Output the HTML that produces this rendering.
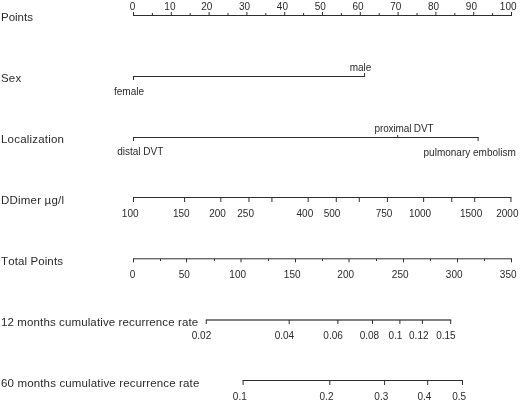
<!DOCTYPE html>
<html><head><meta charset="utf-8"><style>
html,body{margin:0;padding:0;background:#fff;width:520px;height:402px;overflow:hidden}
svg{display:block;will-change:transform}
.t{font-family:"Liberation Sans",sans-serif;font-kerning:none;font-size:10px;fill:#2a2a2a}
.r{font-family:"Liberation Sans",sans-serif;font-kerning:none;font-size:11.5px;fill:#2a2a2a}
</style></head><body>
<svg width="520" height="402" viewBox="0 0 520 402">
<rect width="520" height="402" fill="#fff"/>
<text x="1.00" y="20.90" class="r" text-anchor="start" style="letter-spacing:0.0px">Points</text>
<text x="1.00" y="81.80" class="r" text-anchor="start" style="letter-spacing:0.2px">Sex</text>
<text x="1.00" y="142.90" class="r" text-anchor="start" style="letter-spacing:0.2px">Localization</text>
<text x="1.00" y="203.80" class="r" text-anchor="start" style="letter-spacing:0.2px">DDimer µg/l</text>
<text x="1.00" y="264.80" class="r" text-anchor="start" style="letter-spacing:0.11px">Total Points</text>
<text x="1.00" y="326.20" class="r" text-anchor="start" style="letter-spacing:0.12px">12 months cumulative recurrence rate</text>
<text x="1.00" y="386.60" class="r" text-anchor="start" style="letter-spacing:0.15px">60 months cumulative recurrence rate</text>
<line x1="133.00" y1="15.50" x2="512.00" y2="15.50" stroke="#2e2e2e" stroke-width="1"/>
<line x1="133.50" y1="12.00" x2="133.50" y2="15.50" stroke="#2e2e2e" stroke-width="1"/>
<text x="132.50" y="9.80" class="t" text-anchor="middle">0</text>
<line x1="152.40" y1="13.00" x2="152.40" y2="15.50" stroke="#2e2e2e" stroke-width="1"/>
<line x1="171.30" y1="12.00" x2="171.30" y2="15.50" stroke="#2e2e2e" stroke-width="1"/>
<text x="169.90" y="9.80" class="t" text-anchor="middle">10</text>
<line x1="190.20" y1="13.00" x2="190.20" y2="15.50" stroke="#2e2e2e" stroke-width="1"/>
<line x1="209.10" y1="12.00" x2="209.10" y2="15.50" stroke="#2e2e2e" stroke-width="1"/>
<text x="206.80" y="9.80" class="t" text-anchor="middle">20</text>
<line x1="228.00" y1="13.00" x2="228.00" y2="15.50" stroke="#2e2e2e" stroke-width="1"/>
<line x1="246.90" y1="12.00" x2="246.90" y2="15.50" stroke="#2e2e2e" stroke-width="1"/>
<text x="244.60" y="9.80" class="t" text-anchor="middle">30</text>
<line x1="265.80" y1="13.00" x2="265.80" y2="15.50" stroke="#2e2e2e" stroke-width="1"/>
<line x1="284.70" y1="12.00" x2="284.70" y2="15.50" stroke="#2e2e2e" stroke-width="1"/>
<text x="282.40" y="9.80" class="t" text-anchor="middle">40</text>
<line x1="303.60" y1="13.00" x2="303.60" y2="15.50" stroke="#2e2e2e" stroke-width="1"/>
<line x1="322.50" y1="12.00" x2="322.50" y2="15.50" stroke="#2e2e2e" stroke-width="1"/>
<text x="320.20" y="9.80" class="t" text-anchor="middle">50</text>
<line x1="341.40" y1="13.00" x2="341.40" y2="15.50" stroke="#2e2e2e" stroke-width="1"/>
<line x1="360.30" y1="12.00" x2="360.30" y2="15.50" stroke="#2e2e2e" stroke-width="1"/>
<text x="358.00" y="9.80" class="t" text-anchor="middle">60</text>
<line x1="379.20" y1="13.00" x2="379.20" y2="15.50" stroke="#2e2e2e" stroke-width="1"/>
<line x1="398.10" y1="12.00" x2="398.10" y2="15.50" stroke="#2e2e2e" stroke-width="1"/>
<text x="395.80" y="9.80" class="t" text-anchor="middle">70</text>
<line x1="417.00" y1="13.00" x2="417.00" y2="15.50" stroke="#2e2e2e" stroke-width="1"/>
<line x1="435.90" y1="12.00" x2="435.90" y2="15.50" stroke="#2e2e2e" stroke-width="1"/>
<text x="433.60" y="9.80" class="t" text-anchor="middle">80</text>
<line x1="454.80" y1="13.00" x2="454.80" y2="15.50" stroke="#2e2e2e" stroke-width="1"/>
<line x1="473.70" y1="12.00" x2="473.70" y2="15.50" stroke="#2e2e2e" stroke-width="1"/>
<text x="471.40" y="9.80" class="t" text-anchor="middle">90</text>
<line x1="492.60" y1="13.00" x2="492.60" y2="15.50" stroke="#2e2e2e" stroke-width="1"/>
<line x1="511.50" y1="12.00" x2="511.50" y2="15.50" stroke="#2e2e2e" stroke-width="1"/>
<text x="508.20" y="9.80" class="t" text-anchor="middle">100</text>
<line x1="133.00" y1="76.50" x2="365.10" y2="76.50" stroke="#2e2e2e" stroke-width="1"/>
<line x1="133.50" y1="76.50" x2="133.50" y2="80.00" stroke="#2e2e2e" stroke-width="1"/>
<line x1="364.60" y1="76.50" x2="364.60" y2="73.00" stroke="#2e2e2e" stroke-width="1"/>
<text x="129.00" y="94.70" class="t" text-anchor="middle">female</text>
<text x="360.50" y="70.60" class="t" text-anchor="middle">male</text>
<line x1="133.00" y1="137.50" x2="478.60" y2="137.50" stroke="#2e2e2e" stroke-width="1"/>
<line x1="133.50" y1="137.50" x2="133.50" y2="141.00" stroke="#2e2e2e" stroke-width="1"/>
<line x1="397.70" y1="137.50" x2="397.70" y2="135.00" stroke="#2e2e2e" stroke-width="1"/>
<line x1="478.10" y1="137.50" x2="478.10" y2="141.00" stroke="#2e2e2e" stroke-width="1"/>
<text x="140.30" y="155.40" class="t" text-anchor="middle">distal DVT</text>
<text x="404.00" y="132.30" class="t" text-anchor="middle" style="letter-spacing:-0.15px">proximal DVT</text>
<text x="469.70" y="155.90" class="t" text-anchor="middle">pulmonary embolism</text>
<line x1="133.00" y1="197.50" x2="511.46" y2="197.50" stroke="#2e2e2e" stroke-width="1"/>
<line x1="133.50" y1="197.50" x2="133.50" y2="202.00" stroke="#2e2e2e" stroke-width="1"/>
<text x="130.20" y="216.60" class="t" text-anchor="middle">100</text>
<line x1="184.59" y1="197.50" x2="184.59" y2="202.00" stroke="#2e2e2e" stroke-width="1"/>
<text x="181.29" y="216.60" class="t" text-anchor="middle">150</text>
<line x1="220.84" y1="197.50" x2="220.84" y2="202.00" stroke="#2e2e2e" stroke-width="1"/>
<text x="217.54" y="216.60" class="t" text-anchor="middle">200</text>
<line x1="248.95" y1="197.50" x2="248.95" y2="202.00" stroke="#2e2e2e" stroke-width="1"/>
<text x="245.65" y="216.60" class="t" text-anchor="middle">250</text>
<line x1="271.93" y1="197.50" x2="271.93" y2="202.00" stroke="#2e2e2e" stroke-width="1"/>
<line x1="308.17" y1="197.50" x2="308.17" y2="202.00" stroke="#2e2e2e" stroke-width="1"/>
<text x="304.87" y="216.60" class="t" text-anchor="middle">400</text>
<line x1="336.29" y1="197.50" x2="336.29" y2="202.00" stroke="#2e2e2e" stroke-width="1"/>
<text x="331.99" y="216.60" class="t" text-anchor="middle">500</text>
<line x1="359.26" y1="197.50" x2="359.26" y2="202.00" stroke="#2e2e2e" stroke-width="1"/>
<line x1="387.38" y1="197.50" x2="387.38" y2="202.00" stroke="#2e2e2e" stroke-width="1"/>
<text x="384.08" y="216.60" class="t" text-anchor="middle">750</text>
<line x1="423.63" y1="197.50" x2="423.63" y2="202.00" stroke="#2e2e2e" stroke-width="1"/>
<text x="420.03" y="216.60" class="t" text-anchor="middle">1000</text>
<line x1="451.74" y1="197.50" x2="451.74" y2="202.00" stroke="#2e2e2e" stroke-width="1"/>
<line x1="474.71" y1="197.50" x2="474.71" y2="202.00" stroke="#2e2e2e" stroke-width="1"/>
<text x="471.11" y="216.60" class="t" text-anchor="middle">1500</text>
<line x1="510.96" y1="197.50" x2="510.96" y2="202.00" stroke="#2e2e2e" stroke-width="1"/>
<text x="507.36" y="216.60" class="t" text-anchor="middle">2000</text>
<line x1="133.00" y1="258.80" x2="512.00" y2="258.80" stroke="#2e2e2e" stroke-width="1"/>
<line x1="133.50" y1="258.80" x2="133.50" y2="262.30" stroke="#2e2e2e" stroke-width="1"/>
<text x="132.50" y="278.00" class="t" text-anchor="middle">0</text>
<line x1="160.50" y1="258.80" x2="160.50" y2="261.00" stroke="#2e2e2e" stroke-width="1"/>
<line x1="186.50" y1="258.80" x2="186.50" y2="262.30" stroke="#2e2e2e" stroke-width="1"/>
<text x="184.20" y="278.00" class="t" text-anchor="middle">50</text>
<line x1="214.50" y1="258.80" x2="214.50" y2="261.00" stroke="#2e2e2e" stroke-width="1"/>
<line x1="241.00" y1="258.80" x2="241.00" y2="262.30" stroke="#2e2e2e" stroke-width="1"/>
<text x="237.70" y="278.00" class="t" text-anchor="middle">100</text>
<line x1="268.50" y1="258.80" x2="268.50" y2="261.00" stroke="#2e2e2e" stroke-width="1"/>
<line x1="295.50" y1="258.80" x2="295.50" y2="262.30" stroke="#2e2e2e" stroke-width="1"/>
<text x="292.20" y="278.00" class="t" text-anchor="middle">150</text>
<line x1="322.50" y1="258.80" x2="322.50" y2="261.00" stroke="#2e2e2e" stroke-width="1"/>
<line x1="349.00" y1="258.80" x2="349.00" y2="262.30" stroke="#2e2e2e" stroke-width="1"/>
<text x="345.70" y="278.00" class="t" text-anchor="middle">200</text>
<line x1="376.50" y1="258.80" x2="376.50" y2="261.00" stroke="#2e2e2e" stroke-width="1"/>
<line x1="403.50" y1="258.80" x2="403.50" y2="262.30" stroke="#2e2e2e" stroke-width="1"/>
<text x="400.20" y="278.00" class="t" text-anchor="middle">250</text>
<line x1="430.50" y1="258.80" x2="430.50" y2="261.00" stroke="#2e2e2e" stroke-width="1"/>
<line x1="457.50" y1="258.80" x2="457.50" y2="262.30" stroke="#2e2e2e" stroke-width="1"/>
<text x="454.20" y="278.00" class="t" text-anchor="middle">300</text>
<line x1="484.50" y1="258.80" x2="484.50" y2="261.00" stroke="#2e2e2e" stroke-width="1"/>
<line x1="511.50" y1="258.80" x2="511.50" y2="262.30" stroke="#2e2e2e" stroke-width="1"/>
<text x="508.20" y="278.00" class="t" text-anchor="middle">350</text>
<line x1="205.80" y1="320.00" x2="451.20" y2="320.00" stroke="#000" stroke-width="1"/>
<line x1="206.30" y1="320.00" x2="206.30" y2="324.00" stroke="#2e2e2e" stroke-width="1"/>
<text x="201.50" y="338.50" class="t" text-anchor="middle">0.02</text>
<line x1="289.20" y1="320.00" x2="289.20" y2="324.00" stroke="#2e2e2e" stroke-width="1"/>
<text x="284.40" y="338.50" class="t" text-anchor="middle">0.04</text>
<line x1="337.90" y1="320.00" x2="337.90" y2="324.00" stroke="#2e2e2e" stroke-width="1"/>
<text x="333.10" y="338.50" class="t" text-anchor="middle">0.06</text>
<line x1="372.50" y1="320.00" x2="372.50" y2="324.00" stroke="#2e2e2e" stroke-width="1"/>
<text x="369.40" y="338.50" class="t" text-anchor="middle">0.08</text>
<line x1="399.90" y1="320.00" x2="399.90" y2="324.00" stroke="#2e2e2e" stroke-width="1"/>
<text x="395.40" y="338.50" class="t" text-anchor="middle">0.1</text>
<line x1="422.40" y1="320.00" x2="422.40" y2="324.00" stroke="#2e2e2e" stroke-width="1"/>
<text x="418.80" y="338.50" class="t" text-anchor="middle">0.12</text>
<line x1="450.70" y1="320.00" x2="450.70" y2="324.00" stroke="#2e2e2e" stroke-width="1"/>
<text x="445.90" y="338.50" class="t" text-anchor="middle">0.15</text>
<line x1="242.60" y1="380.50" x2="463.00" y2="380.50" stroke="#2e2e2e" stroke-width="1"/>
<line x1="243.10" y1="380.50" x2="243.10" y2="385.00" stroke="#2e2e2e" stroke-width="1"/>
<text x="239.80" y="399.80" class="t" text-anchor="middle">0.1</text>
<line x1="329.80" y1="380.50" x2="329.80" y2="385.00" stroke="#2e2e2e" stroke-width="1"/>
<text x="326.50" y="399.80" class="t" text-anchor="middle">0.2</text>
<line x1="384.60" y1="380.50" x2="384.60" y2="385.00" stroke="#2e2e2e" stroke-width="1"/>
<text x="381.30" y="399.80" class="t" text-anchor="middle">0.3</text>
<line x1="427.70" y1="380.50" x2="427.70" y2="385.00" stroke="#2e2e2e" stroke-width="1"/>
<text x="424.40" y="399.80" class="t" text-anchor="middle">0.4</text>
<line x1="462.50" y1="380.50" x2="462.50" y2="385.00" stroke="#2e2e2e" stroke-width="1"/>
<text x="459.20" y="399.80" class="t" text-anchor="middle">0.5</text>
</svg>
</body></html>
